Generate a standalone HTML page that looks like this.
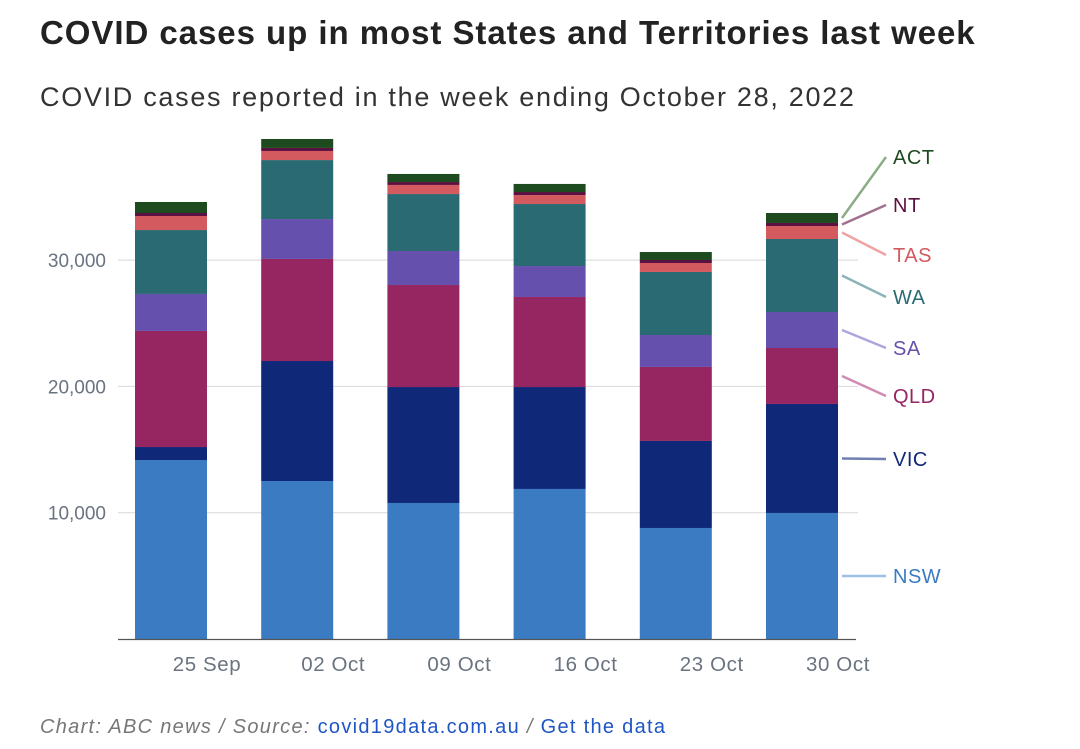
<!DOCTYPE html>
<html><head><meta charset="utf-8"><style>
body{margin:0;background:#fff;width:1080px;height:749px;overflow:hidden;font-family:"Liberation Sans",sans-serif}
h1{position:absolute;left:40px;top:14px;margin:0;font-size:33px;font-weight:bold;color:#222;letter-spacing:0.95px}
h2{position:absolute;left:40px;top:82px;margin:0;font-size:27px;font-weight:normal;color:#333;letter-spacing:1.7px}
#foot{position:absolute;left:40px;top:716px;font-size:20px;color:#777;font-style:italic;letter-spacing:1.3px}
#foot a{color:#1f55c4;font-style:normal;text-decoration:none}
svg{position:absolute;left:0;top:0}
</style></head><body>
<h1>COVID cases up in most States and Territories last week</h1>
<h2>COVID cases reported in the week ending October 28, 2022</h2>
<svg id="chart" width="1080" height="749"></svg>
<div id="foot">Chart: ABC news / Source: <a href="#">covid19data.com.au</a> / <a href="#">Get the data</a></div>
<script>
const categories=["25 Sep","02 Oct","09 Oct","16 Oct","23 Oct","30 Oct"];
const states=["NSW","VIC","QLD","SA","WA","TAS","NT","ACT"];
const NSW=[14170,12510,10770,11880,8790,9980];
const VIC=[1030,9500,9180,8070,6890,8630];
const QLD=[9190,8080,8080,7130,5860,4430];
const SA=[2930,3160,2690,2450,2530,2850];
const WA=[5060,4670,4510,4910,4990,5780];
const TAS=[1110,720,720,710,710,1030];
const NT=[240,240,230,240,240,240];
const ACT=[870,710,640,640,630,790];
const yTicks=[10000,20000,30000];
const yTickLabels=["10,000","20,000","30,000"];
const series=[NSW,VIC,QLD,SA,WA,TAS,NT,ACT];
const colors=["#3a7bc2","#0f2878","#962662","#6650ad","#2a6a72","#d35a5e","#5a1040","#1e4a20"];
const lineColors=["#9cc0e8","#7080b0","#d08cb0","#b0a4dc","#8cb4b8","#eca4a4","#a0708c","#8cac88"];
const textColors=["#3a7bc2","#0f2878","#962662","#6650ad","#2a6a72","#d35a5e","#5a1040","#1e4a20"];
const labelY=[576,459,396,348,297,255,205,157];
const NS="http://www.w3.org/2000/svg";
const svg=document.getElementById('chart');
const y=v=>639-v*126.3/10000;
const x=i=>135+i*126.2;
const bw=72;
function mk(t,a){const e=document.createElementNS(NS,t);for(const k in a)e.setAttribute(k,a[k]);svg.appendChild(e);return e;}
yTicks.forEach((t,i)=>{
 const g=mk('line',{x1:118,x2:858,y1:y(t),y2:y(t),stroke:'#d8d8d8','stroke-width':1});
 
 
 const l=mk('text',{x:106,y:y(t)+7,'text-anchor':'end','font-size':19,fill:'#6a7380'});
 l.textContent=yTickLabels[i];
 
 
});
categories.forEach((c,i)=>{
 let acc=0;
 series.forEach((s,j)=>{
  const r=mk('rect',{x:x(i),y:y(acc+s[i]),width:bw,height:y(acc)-y(acc+s[i]),fill:colors[j]});
  
  
  acc+=s[i];
 });
 const t=mk('text',{x:x(i)+bw,y:671,'text-anchor':'middle','font-size':20.5,fill:'#6a7380','letter-spacing':0.6});
 t.textContent=c;
 
 
});
const ax=mk('line',{x1:118,x2:856,y1:639.5,y2:639.5,stroke:'#555','stroke-width':1.2});


let acc=0;const last=categories.length-1;
series.forEach((s,j)=>{
 const mid=y(acc+s[last]/2);acc+=s[last];
 const ln=mk('line',{x1:842,y1:mid,x2:886,y2:labelY[j],stroke:lineColors[j],'stroke-width':2.5});
 
 
 const t=mk('text',{x:893,y:labelY[j]+7,'font-size':20,fill:textColors[j],'letter-spacing':0.5});
 t.textContent=states[j];
 
 
});
</script>
</body></html>
